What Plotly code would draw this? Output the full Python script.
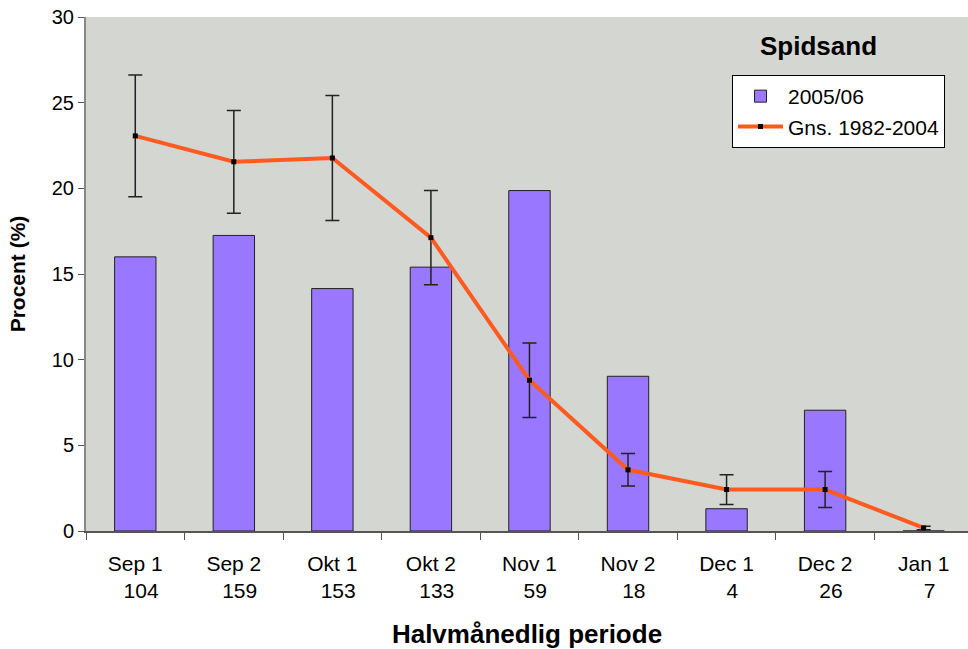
import plotly.graph_objects as go

periods = ["Sep 1", "Sep 2", "Okt 1", "Okt 2", "Nov 1", "Nov 2", "Dec 1", "Dec 2", "Jan 1"]
counts = ["104", "159", "153", "133", "59", "18", "4", "26", "7"]
season_2005 = [16.0, 17.25, 14.15, 15.4, 19.87, 9.03, 1.3, 7.05, 0.0]
avg_1982_2004 = [23.06, 21.55, 21.77, 17.12, 8.8, 3.57, 2.42, 2.42, 0.18]
avg_err = [3.55, 3.0, 3.65, 2.75, 2.17, 0.95, 0.87, 1.05, 0.1]

NB = "\u00a0"
labels = [f"{p}<br>{NB}{NB}{c}" for p, c in zip(periods, counts)]
FONT = "Liberation Sans, Arial, sans-serif"

# body margin is removed in the page, so the figure sits at 0,0
L, T, B = 86, 17, 118
FW, FH = 968, 649
W, H = FW - L, FH - T - B

fig = go.Figure()
fig.add_trace(go.Bar(
    x=labels, y=season_2005, name="2005/06",
    marker=dict(color="#9977FF", line=dict(color="#222222", width=1)),
    width=0.42,
))
fig.add_trace(go.Scatter(
    x=labels, y=avg_1982_2004, name="Gns. 1982-2004",
    mode="lines+markers",
    line=dict(color="#FF5A1F", width=4),
    marker=dict(color="black", size=5, symbol="square"),
    error_y=dict(type="data", array=avg_err, visible=True,
                 color="#222222", thickness=1.5, width=7),
))

fig.update_layout(
    width=FW, height=FH,
    margin=dict(l=L, r=0, t=T, b=B),
    paper_bgcolor="white",
    plot_bgcolor="#D4D6D1",
    font=dict(family=FONT, size=20, color="black"),
    showlegend=True,
    legend=dict(
        x=(732 - L) / W, y=1 - (75 - T) / H, xanchor="left", yanchor="top",
        bgcolor="white", bordercolor="black", borderwidth=1,
        font=dict(size=21), itemwidth=45, tracegroupgap=5,
    ),
    annotations=[dict(
        text="<b>Spidsand</b>", x=(818 - L) / W, y=1 - (46 - T) / H,
        xref="paper", yref="paper", xanchor="center", yanchor="middle",
        showarrow=False, font=dict(size=26, family=FONT),
    )],
)

fig.update_xaxes(
    type="category", range=[-0.5, 8.45], automargin=False,
    showline=True, linecolor="#555555", linewidth=1.5,
    ticks="outside", tickson="boundaries", ticklen=7, tickcolor="#555555",
    showgrid=False, tickfont=dict(size=21), ticklabelstandoff=13,
    title=dict(text="<b>Halvmånedlig periode</b>", font=dict(size=26), standoff=24),
)
fig.update_yaxes(
    range=[0, 30], dtick=5, automargin=False, ticklabeloverflow="allow",
    showline=True, linecolor="#888888", linewidth=2,
    ticks="outside", ticklen=6, tickcolor="#555555",
    showgrid=False, zeroline=False, tickfont=dict(size=20),
    title=dict(text="<b>Procent (%)</b>", font=dict(size=21), standoff=20),
)

fig.write_html(
    "out.html",
    config={"displayModeBar": False},
    post_script="document.body.style.margin='0';document.body.style.overflow='hidden';",
)
